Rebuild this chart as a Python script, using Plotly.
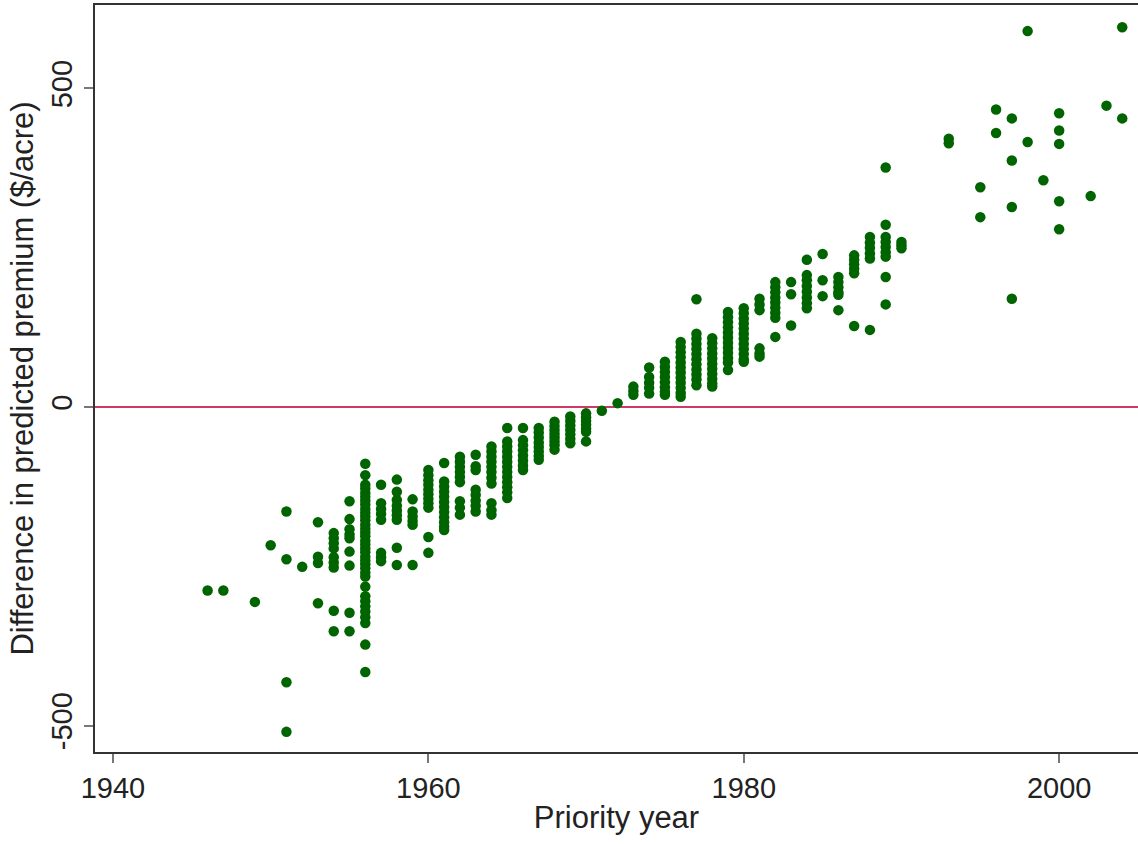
import plotly.graph_objects as go

# Priority years and predicted-premium differences ($/acre)
early_years = [1946, 1947, 1949, 1950, 1951, 1952, 1953, 1954, 1955, 1956,
               1957, 1958, 1959, 1960, 1961, 1962, 1963, 1964, 1965, 1966,
               1967, 1968, 1969, 1970, 1971, 1972]
early_values = [
    [-288],
    [-288],
    [-306],
    [-217],
    [-164, -239, -432, -510],
    [-251],
    [-181, -235, -245, -308],
    [-198, -206, -214, -222, -236, -244, -252, -320, -352],
    [-148, -176, -192, -200, -206, -227, -249, -323, -352],
    [-89, -107, -122, -128, -135, -141, -147, -153, -160, -166, -172, -178,
     -185, -191, -197, -203, -210, -216, -222, -228, -235, -241, -247, -253,
     -260, -266, -282, -297, -305, -313, -321, -330, -339, -373, -416],
    [-122, -151, -160, -168, -177, -229, -236, -242],
    [-114, -133, -146, -155, -163, -170, -177, -221, -248],
    [-145, -164, -172, -179, -185, -248],
    [-99, -107, -115, -122, -130, -137, -144, -151, -158, -204, -229],
    [-88, -117, -125, -133, -141, -149, -157, -165, -173, -181, -188, -193],
    [-78, -86, -94, -102, -110, -118, -148, -158, -169],
    [-75, -93, -99, -130, -138, -147, -155, -164],
    [-62, -70, -78, -86, -94, -102, -111, -120, -151, -162, -169],
    [-33, -54, -62, -70, -78, -86, -94, -102, -110, -118, -126, -134, -143],
    [-33, -52, -60, -68, -76, -84, -92, -99],
    [-33, -40, -48, -56, -63, -70, -77, -83],
    [-23, -30, -36, -42, -48, -54, -60, -67],
    [-15, -22, -29, -36, -43, -50, -57],
    [-10, -16, -22, -28, -34, -39, -54],
    [-6],
    [6],
]

late_years = [1973, 1974, 1975, 1976, 1977, 1978, 1979, 1980, 1981, 1982,
              1983, 1984, 1985, 1986, 1987, 1988, 1989, 1990, 1993, 1995,
              1996, 1997, 1998, 1999, 2000, 2002, 2003, 2004]
late_values = [
    [19, 25, 32],
    [62, 47, 38, 30, 21],
    [71, 63, 55, 47, 39, 31, 24, 19],
    [102, 94, 86, 78, 70, 62, 54, 46, 38, 30, 22, 16],
    [169, 115, 107, 99, 91, 83, 75, 67, 59, 51, 43, 34],
    [108, 100, 92, 84, 76, 68, 60, 52, 44, 37, 32],
    [149, 141, 133, 125, 117, 109, 101, 93, 85, 77, 70, 58],
    [155, 147, 139, 131, 123, 115, 107, 99, 91, 83, 75, 71],
    [170, 161, 152, 92, 84, 79],
    [196, 188, 180, 172, 164, 156, 148, 140, 110],
    [196, 177, 128],
    [231, 207, 199, 190, 181, 172, 163, 155],
    [240, 199, 174],
    [204, 196, 188, 180, 176, 152],
    [238, 231, 224, 217, 210, 127],
    [267, 258, 250, 241, 233, 121],
    [376, 286, 267, 259, 251, 243, 236, 204, 161],
    [259, 254, 249],
    [421, 414],
    [345, 298],
    [467, 430],
    [453, 387, 314, 170],
    [590, 416],
    [356],
    [461, 434, 413, 323, 279],
    [331],
    [473],
    [596, 453],
]

x_ticks = [1940, 1960, 1980, 2000]
y_ticks = [-500, 0, 500]
x_title = "Priority year"
y_title = "Difference in predicted premium ($/acre)"

xs, ys = [], []
for yrs, vals in ((early_years, early_values), (late_years, late_values)):
    for yr, vlist in zip(yrs, vals):
        for v in vlist:
            xs.append(yr)
            ys.append(v)

FONT = "Liberation Sans, Arial, sans-serif"

fig = go.Figure()
fig.add_trace(go.Scatter(
    x=xs, y=ys, mode="markers",
    marker=dict(color="#006400", size=10.5, line=dict(width=0)),
    showlegend=False, hoverinfo="x+y",
))
fig.add_hline(y=0, line=dict(color="#cc3b66", width=2), layer="below")

fig.update_layout(
    width=1138, height=844,
    margin=dict(l=95, r=0, t=5, b=92),
    paper_bgcolor="white", plot_bgcolor="white",
    font=dict(family=FONT, size=29, color="#222222"),
    showlegend=False,
)
fig.update_xaxes(
    range=[1938.86, 2005.0], tickvals=x_ticks, ticktext=[str(t) for t in x_ticks],
    ticks="outside", ticklen=9, tickwidth=1.5, tickcolor="#777777",
    showline=True, linecolor="#333333", linewidth=2, mirror=True,
    showgrid=False, zeroline=False, automargin=False,
    title=dict(text=x_title, font=dict(size=31), standoff=4),
    tickfont=dict(size=29),
)
fig.update_yaxes(
    range=[-541.6, 631.0], tickvals=y_ticks, ticktext=[str(t) for t in y_ticks],
    tickangle=-90,
    ticks="outside", ticklen=9, tickwidth=1.5, tickcolor="#777777",
    showline=True, linecolor="#333333", linewidth=2,
    showgrid=False, zeroline=False, automargin=False,
    title=dict(text=y_title, font=dict(size=31), standoff=4),
    tickfont=dict(size=29),
)

fig.write_html(
    "out.html",
    config={"displayModeBar": False},
    post_script="document.body.style.margin='0';document.body.style.padding='0';",
)
